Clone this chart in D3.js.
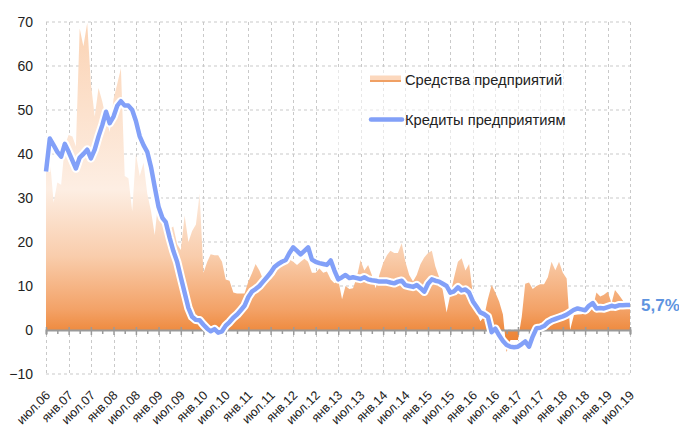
<!DOCTYPE html>
<html>
<head>
<meta charset="utf-8">
<script src="https://cdn.jsdelivr.net/npm/d3@7"></script>
<style>
  body { margin: 0; background: #fff; }
  text { font-family: "Liberation Sans", Arial, sans-serif; fill: #222; }
</style>
</head>
<body>
<div class="chart"></div>
<script>
var svgWidth = 679;
var svgHeight = 426;

// monthly data, июл.06 .. июл.19
var startMonth = new Date(2006, 6, 1);
var endMonth = new Date(2019, 6, 1);

var funds = [38, 39, 29, 33.5, 33, 42, 44.3, 44, 41.7, 68.5, 64.5, 69.8, 56, 48.5, 55, 52, 48, 45, 52.5, 56,
  59.5, 35, 34.5, 27, 40, 35, 38, 31, 27, 21.6, 30, 28, 22.7, 23, 23.5, 19.5, 18.2, 26, 20, 22.5,
  24, 31, 13, 15.5, 17.2, 17, 17, 15.5, 11.5, 11.2, 8.5, 8.3, 8.3, 8.3, 11, 13, 15, 13.5, 11.5, 12,
  11.5, 12.5, 14.2, 14.8, 15.3, 16, 15.5, 14.8, 15.5, 16.2, 15.5, 13, 13, 14, 13, 13.3, 11.5, 10.6, 11.4, 7,
  10, 9.3, 9.5, 12, 15.9, 13.5, 14.8, 12.5, 9.5, 12.5, 15.2, 17, 18, 17.5, 17.5, 19.7, 15.5, 12.5, 11, 12.5,
  15, 16.5, 17.5, 18, 14.5, 12, 9, 4, 8, 12, 15.5, 16.3, 13.5, 15, 8, 4, 2, 3, 7, 10.2,
  8.5, 6.5, 3.5, -5, -2.3, -2.3, -2.3, 3, 10.5, 10.8, 9.3, 10, 10.4, 10.4, 12, 15.5, 13.6, 15.5, 13, 11.7,
  0, 3.4, 3.5, 3.6, 3.8, 4, 5, 8.5, 7.6, 8, 8.7, 6.1, 9.1, 8, 6.8, 5.5, 5];

var credits = [36, 43.5, 42, 40.5, 39.4, 42.3, 40.5, 38.5, 36.7, 39.2, 40, 41, 39, 41, 44, 46.5, 49.6, 47, 48.5, 51,
  52, 51, 51, 50, 47.5, 44, 42, 40.5, 37, 32.5, 28, 25.5, 24.5, 21, 18, 15.5, 12, 8.5, 5, 3,
  2.3, 2.2, 1.2, 0.3, -0.3, 0.2, -0.6, -0.3, 1, 1.8, 2.8, 3.5, 4.5, 5.5, 7.5, 8.8, 9.3, 10, 11, 12,
  13, 14.3, 15, 15.5, 15.9, 17.5, 18.8, 18, 17.2, 18, 18.8, 16, 15.5, 15.2, 15, 14.8, 15.8, 13.5, 11.5, 12,
  12.5, 11.8, 12, 11.8, 11.6, 12, 11.5, 11.3, 11.2, 11, 11, 11, 10.8, 10.6, 11, 11.2, 10.2, 10, 9.8, 10.2,
  9.5, 8.7, 10.5, 11.5, 11.2, 11, 10.5, 10, 8.5, 8.8, 9.7, 9, 9.2, 8.5, 6.5, 5.2, 4, 3.6, 3, -0.5,
  0.3, -1.2, -2.5, -3.4, -3.8, -3.9, -3.8, -3.2, -2.6, -3.8, -1.5, 0.4, 0.5, 0.9, 1.7, 2.2, 2.5, 2.8, 3.1, 3.5,
  4, 4.6, 4.9, 4.7, 4.5, 5.5, 6.1, 4.9, 5, 4.9, 5.2, 5.5, 5.3, 5.6, 5.6, 5.7, 5.7];

var tickLabels = ["июл.06", "янв.07", "июл.07", "янв.08", "июл.08", "янв.09", "июл.09", "янв.10", "июл.10",
  "янв.11", "июл.11", "янв.12", "июл.12", "янв.13", "июл.13", "янв.14", "июл.14", "янв.15", "июл.15",
  "янв.16", "июл.16", "янв.17", "июл.17", "янв.18", "июл.18", "янв.19", "июл.19"];

var yTicks = [-10, 0, 10, 20, 30, 40, 50, 60, 70];
var seriesNames = ["Средства предприятий", "Кредиты предприятиям"];
var lastLabel = "5,7%";

var months = d3.timeMonth.range(startMonth, d3.timeMonth.offset(endMonth, 1));
var data = months.map(function(d, i) {
  return { date: d, funds: funds[i], credits: credits[i] };
});
var halfYears = d3.timeMonth.every(6).range(startMonth, d3.timeMonth.offset(endMonth, 1));
var quarters = d3.timeMonth.every(3).range(startMonth, d3.timeMonth.offset(endMonth, 1));

var margin = { top: 22, right: 49, bottom: 52, left: 46 };
var width = svgWidth - margin.left - margin.right;
var height = svgHeight - margin.top - margin.bottom;

var svg = d3.select(".chart")
  .append("svg")
  .attr("width", svgWidth)
  .attr("height", svgHeight);

var chartGroup = svg.append("g")
  .attr("transform", `translate(${margin.left}, ${margin.top})`);

var x = d3.scaleTime().domain([startMonth, endMonth]).range([0, width]);
var y = d3.scaleLinear().domain([-10, 70]).range([height, 0]);

// gradient for the area
var grad = svg.append("defs").append("linearGradient")
  .attr("id", "fundsGrad")
  .attr("gradientUnits", "userSpaceOnUse")
  .attr("x1", 0).attr("x2", 0)
  .attr("y1", y(70)).attr("y2", y(-6));
[[0, "#fbd3b4"], [0.5, "#fdeee3"], [0.7, "#f9cdac"], [0.86, "#f3a267"], [0.93, "#ee883b"], [1, "#e8782a"]]
  .forEach(function(s) {
    grad.append("stop").attr("offset", s[0]).attr("stop-color", s[1]);
  });

// grid
chartGroup.append("g")
  .selectAll("line.h")
  .data(yTicks)
  .enter()
  .append("line")
  .attr("x1", 0).attr("x2", width)
  .attr("y1", d => y(d)).attr("y2", d => y(d))
  .attr("stroke", "#c9c9c9")
  .attr("stroke-dasharray", "3,3");

chartGroup.append("g")
  .selectAll("line.v")
  .data(halfYears)
  .enter()
  .append("line")
  .attr("x1", d => Math.round(x(d)) + 0.5).attr("x2", d => Math.round(x(d)) + 0.5)
  .attr("y1", 0).attr("y2", height)
  .attr("stroke", "#c9c9c9")
  .attr("stroke-dasharray", "3,3");

// area
var area = d3.area()
  .x(d => x(d.date))
  .y0(y(0))
  .y1(d => y(d.funds));

chartGroup.append("path")
  .datum(data)
  .attr("d", area)
  .attr("fill", "url(#fundsGrad)");

// zero axis with quarter ticks
var bottomAxis = d3.axisBottom(x)
  .tickValues(quarters)
  .tickSize(4)
  .tickFormat("");

var axisG = chartGroup.append("g")
  .attr("transform", `translate(0, ${y(0)})`)
  .call(bottomAxis);
axisG.select(".domain").attr("stroke", "#9a9a9a").attr("stroke-width", 2);
axisG.selectAll(".tick line").attr("stroke", "#9a9a9a").attr("stroke-width", 1.5)
  .attr("y1", d => d.getMonth() % 6 === 0 ? -3 : 0)
  .attr("y2", d => d.getMonth() % 6 === 0 ? 5 : 4);

// y labels
var leftAxis = d3.axisLeft(y).tickValues(yTicks).tickSize(0).tickPadding(13);
var yG = chartGroup.append("g").call(leftAxis);
yG.select(".domain").remove();
yG.selectAll("text").style("font-size", "14px").attr("fill", "#222")
  .style("font-family", "'Liberation Sans', Arial, sans-serif");

// x labels
chartGroup.append("g")
  .selectAll("text")
  .data(halfYears)
  .enter()
  .append("text")
  .attr("transform", d => `translate(${x(d) + 5}, ${height + 22}) rotate(-45)`)
  .attr("text-anchor", "end")
  .style("font-size", "12.6px")
  .text((d, i) => tickLabels[i]);

// credits line
var line = d3.line()
  .x(d => x(d.date))
  .y(d => y(d.credits));

chartGroup.append("path")
  .datum(data)
  .attr("d", line)
  .attr("fill", "none")
  .attr("stroke", "#fff")
  .attr("stroke-width", 8.5)
  .attr("stroke-linejoin", "round");

chartGroup.append("path")
  .datum(data)
  .attr("d", line)
  .attr("fill", "none")
  .attr("stroke", "#82a0f8")
  .attr("stroke-width", 4.5)
  .attr("stroke-linejoin", "round");

// last value
chartGroup.append("text")
  .attr("x", width + 11)
  .attr("y", y(credits[credits.length - 1]) + 6)
  .style("font-size", "17px")
  .style("font-weight", "bold")
  .style("fill", "#5f94e0")
  .text(lastLabel);

// legend
var legend = svg.append("g");
legend.append("rect")
  .attr("x", 337).attr("y", 67).attr("width", 240).attr("height", 86)
  .attr("fill", "#fff").attr("opacity", 0.55);
legend.append("rect")
  .attr("x", 370).attr("y", 75.5).attr("width", 31).attr("height", 5)
  .attr("fill", "#fcd8bd");
legend.append("line")
  .attr("x1", 370).attr("x2", 401).attr("y1", 81).attr("y2", 81)
  .attr("stroke", "#f0a064").attr("stroke-width", 2);
legend.append("text")
  .attr("x", 405).attr("y", 84.5)
  .style("font-size", "14.7px")
  .text(seriesNames[0]);
legend.append("line")
  .attr("x1", 371).attr("x2", 402).attr("y1", 119.5).attr("y2", 119.5)
  .attr("stroke", "#82a0f8").attr("stroke-width", 4.5).attr("stroke-linecap", "round");
legend.append("text")
  .attr("x", 405).attr("y", 124.5)
  .style("font-size", "14.7px")
  .text(seriesNames[1]);
</script>
</body>
</html>
